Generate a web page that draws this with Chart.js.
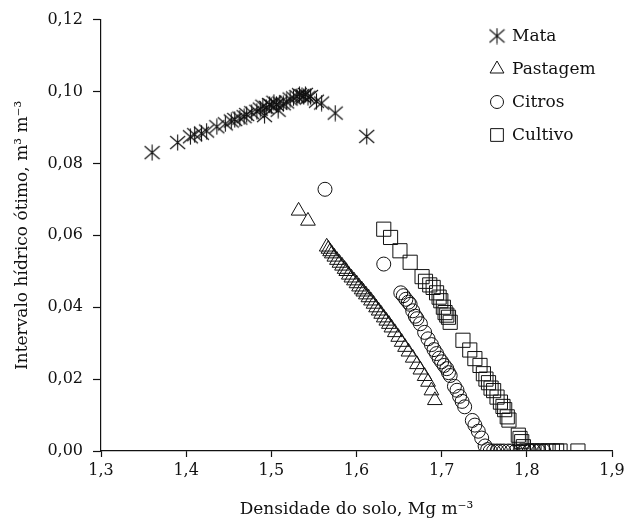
<!DOCTYPE html>
<html>
<head>
<meta charset="utf-8">
<title>Intervalo hídrico ótimo x densidade do solo</title>
<script src="https://cdn.jsdelivr.net/npm/chart.js"></script>
<style>
  html, body { margin: 0; padding: 0; background: #fff; }
</style>
</head>
<body>
<canvas id="ihoChart" width="631" height="520"></canvas>
<script>
// densidade do solo (Mg m-3) e IHO (m3 m-3)
const mataX = [1.360, 1.390, 1.405, 1.410, 1.418, 1.424, 1.436, 1.446, 1.453, 1.457,
               1.463, 1.468, 1.471, 1.477, 1.483, 1.487, 1.490, 1.492, 1.494, 1.498,
               1.500, 1.503, 1.506, 1.508, 1.510, 1.514, 1.518, 1.522, 1.526, 1.530,
               1.533, 1.536, 1.538, 1.540, 1.543, 1.546, 1.553, 1.559, 1.575, 1.612];
const mataY = [0.0830, 0.0858, 0.0874, 0.0880, 0.0884, 0.0890, 0.0902, 0.0910, 0.0918, 0.0922,
               0.0926, 0.0930, 0.0936, 0.0941, 0.0945, 0.0951, 0.0959, 0.0933, 0.0956, 0.0964,
               0.0960, 0.0970, 0.0964, 0.0948, 0.0968, 0.0966, 0.0971, 0.0979, 0.0982, 0.0986,
               0.0991, 0.0989, 0.0986, 0.0992, 0.0984, 0.0986, 0.0973, 0.0968, 0.0940, 0.0875];

const pastX = [1.532, 1.543, 1.565, 1.567, 1.569, 1.571, 1.574, 1.577, 1.580, 1.583,
               1.586, 1.588, 1.591, 1.594, 1.597, 1.600, 1.603, 1.606, 1.608, 1.611,
               1.614, 1.617, 1.620, 1.623, 1.626, 1.629, 1.632, 1.635, 1.638, 1.641,
               1.645, 1.649, 1.653, 1.657, 1.661, 1.666, 1.671, 1.675, 1.680, 1.684,
               1.688, 1.692];
const pastY = [0.0668, 0.0640, 0.0568, 0.0562, 0.0555, 0.0549, 0.0540, 0.0531, 0.0523, 0.0515,
               0.0506, 0.0500, 0.0490, 0.0482, 0.0474, 0.0466, 0.0457, 0.0449, 0.0443, 0.0435,
               0.0427, 0.0418, 0.0409, 0.0399, 0.0390, 0.0381, 0.0371, 0.0362, 0.0353, 0.0343,
               0.0330, 0.0317, 0.0303, 0.0289, 0.0276, 0.0259, 0.0241, 0.0226, 0.0208, 0.0192,
               0.0168, 0.0141];

const citrX = [1.563, 1.632, 1.652, 1.655, 1.658, 1.661, 1.663, 1.666, 1.669, 1.671,
               1.675, 1.680, 1.684, 1.688, 1.691, 1.694, 1.697, 1.700, 1.703, 1.706,
               1.708, 1.710, 1.715, 1.718, 1.721, 1.724, 1.727, 1.736, 1.739, 1.743,
               1.747, 1.751, 1.754, 1.757, 1.761, 1.765, 1.769, 1.773, 1.778, 1.782,
               1.787, 1.792, 1.797, 1.803, 1.808, 1.814, 1.820];
const citrY = [0.0728, 0.0520, 0.0440, 0.0432, 0.0422, 0.0414, 0.0408, 0.0390, 0.0375, 0.0368,
               0.0354, 0.0330, 0.0312, 0.0296, 0.0282, 0.0271, 0.0258, 0.0248, 0.0238, 0.0229,
               0.0218, 0.0210, 0.0180, 0.0169, 0.0152, 0.0138, 0.0123, 0.0085, 0.0072, 0.0055,
               0.0036, 0.0014, 0.0004, 0, 0, 0, 0, 0, 0, 0,
               0, 0, 0, 0, 0, 0, 0];

const cultX = [1.632, 1.640, 1.651, 1.663, 1.677, 1.681, 1.686, 1.690, 1.694, 1.697,
               1.699, 1.702, 1.704, 1.706, 1.708, 1.710, 1.725, 1.733, 1.739, 1.745,
               1.749, 1.752, 1.755, 1.758, 1.761, 1.765, 1.769, 1.772, 1.774, 1.777,
               1.779, 1.790, 1.792, 1.794, 1.796, 1.800, 1.806, 1.812, 1.818, 1.825,
               1.830, 1.835, 1.839, 1.860];
const cultY = [0.0617, 0.0594, 0.0557, 0.0525, 0.0485, 0.0472, 0.0462, 0.0455, 0.0440, 0.0428,
               0.0418, 0.0400, 0.0385, 0.0378, 0.0372, 0.0358, 0.0308, 0.0281, 0.0257, 0.0238,
               0.0215, 0.0200, 0.0190, 0.0175, 0.0168, 0.0150, 0.0136, 0.0124, 0.0115, 0.0095,
               0.0086, 0.0044, 0.0035, 0.0026, 0.0012, 0, 0, 0, 0, 0,
               0, 0, 0, 0];

const seriesNames = ['Mata', 'Pastagem', 'Citros', 'Cultivo'];
const xTickLabels = ['1,3', '1,4', '1,5', '1,6', '1,7', '1,8', '1,9'];
const yTickLabels = ['0,00', '0,02', '0,04', '0,06', '0,08', '0,10', '0,12'];

const FONT = '"DejaVu Serif", "Liberation Serif", serif';
const INK = '#111';

// asterisco de 6 pontas (não existe no Chart.js)
function makeAsterisk(size) {
    const c = document.createElement('canvas');
    c.width = size; c.height = size;
    const g = c.getContext('2d');
    const m = size / 2;
    g.strokeStyle = INK;
    g.lineWidth = 1.1;
    g.beginPath();
    g.moveTo(m, 0.5); g.lineTo(m, size - 0.5);
    g.moveTo(1, m - 6.5); g.lineTo(size - 1, m + 6.5);
    g.moveTo(1, m + 6.5); g.lineTo(size - 1, m - 6.5);
    g.stroke();
    return c;
}
const asterisk = makeAsterisk(17);

function pairs(xs, ys) {
    return xs.map((x, i) => ({ x: x, y: ys[i] }));
}

const styles = [
    { pointStyle: asterisk, radius: 8 },
    { pointStyle: 'triangle', radius: 8.5 },
    { pointStyle: 'circle', radius: 7 },
    { pointStyle: 'rect', radius: 10 }
];

const data = [pairs(mataX, mataY), pairs(pastX, pastY), pairs(citrX, citrY), pairs(cultX, cultY)];

const datasets = data.map((d, i) => ({
    label: seriesNames[i],
    data: d,
    showLine: false,
    pointStyle: styles[i].pointStyle,
    pointRadius: styles[i].radius,
    pointBorderColor: INK,
    pointBackgroundColor: 'rgba(0,0,0,0)',
    pointBorderWidth: 1
}));

// legenda desenhada dentro da área do gráfico, canto superior direito
const innerLegend = {
    id: 'innerLegend',
    afterDraw(chart) {
        const ctx = chart.ctx;
        const sizes = [8, 8, 6.5, 9];
        chart.data.datasets.forEach((ds, i) => {
            const y = 36 + i * 33;
            const x = 497;
            ctx.save();
            if (Chart.helpers && Chart.helpers.drawPoint) {
                ctx.strokeStyle = INK;
                ctx.fillStyle = 'rgba(0,0,0,0)';
                ctx.lineWidth = 1;
                Chart.helpers.drawPoint(ctx, { pointStyle: ds.pointStyle, radius: sizes[i], borderWidth: 1 }, x, y);
            }
            ctx.restore();
            ctx.save();
            ctx.font = '17px ' + FONT;
            ctx.fillStyle = INK;
            ctx.textBaseline = 'middle';
            ctx.textAlign = 'left';
            ctx.fillText(ds.label, 512, y + 1);
            ctx.restore();
        });
    }
};

new Chart(document.getElementById('ihoChart'), {
    type: 'scatter',
    data: { datasets: datasets },
    options: {
        responsive: false,
        animation: false,
        events: [],
        layout: { padding: { top: 18, right: 19, left: 0, bottom: 0 } },
        plugins: {
            legend: { display: false },
            tooltip: { enabled: false }
        },
        scales: {
            x: {
                type: 'linear',
                min: 1.3,
                max: 1.9,
                afterFit: s => { s.height = 69; },
                border: { display: true, color: INK, width: 1.2 },
                grid: { drawOnChartArea: false, tickLength: 6, tickColor: INK, tickWidth: 1.2 },
                ticks: {
                    stepSize: 0.1,
                    padding: 4,
                    color: INK,
                    font: { family: FONT, size: 16 },
                    callback: v => xTickLabels[Math.round((v - 1.3) / 0.1)]
                },
                title: {
                    display: true,
                    text: 'Densidade do solo, Mg m⁻³',
                    color: INK,
                    font: { family: FONT, size: 17 },
                    padding: { top: 2, bottom: 0 }
                }
            },
            y: {
                min: 0,
                max: 0.12,
                afterFit: s => { s.width = 101; },
                border: { display: true, color: INK, width: 1.2 },
                grid: { drawOnChartArea: false, tickLength: 8, tickColor: INK, tickWidth: 1.2 },
                ticks: {
                    stepSize: 0.02,
                    padding: 10,
                    color: INK,
                    font: { family: FONT, size: 16 },
                    callback: v => yTickLabels[Math.round(v / 0.02)]
                },
                title: {
                    display: true,
                    text: 'Intervalo hídrico ótimo, m³ m⁻³',
                    color: INK,
                    font: { family: FONT, size: 17 },
                    padding: { top: 12, bottom: 0 }
                }
            }
        }
    },
    plugins: [innerLegend]
});
</script>
</body>
</html>
